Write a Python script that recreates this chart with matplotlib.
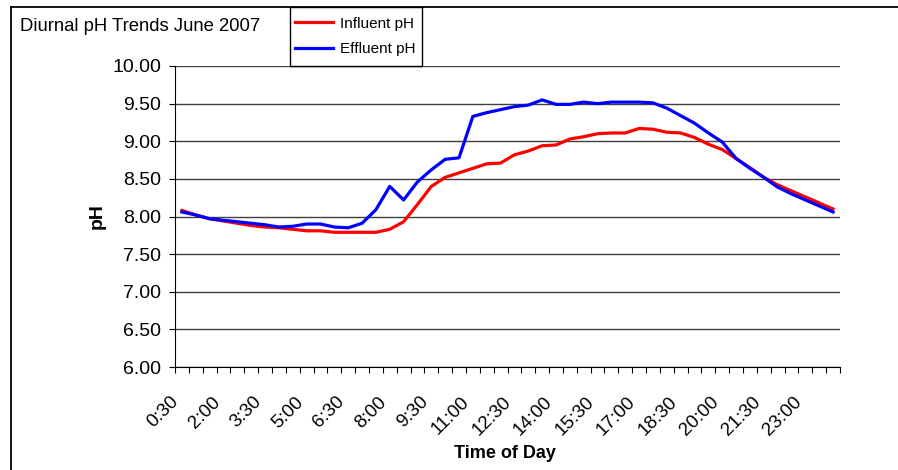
import matplotlib
matplotlib.use('Agg')
import matplotlib.pyplot as plt
from matplotlib.lines import Line2D
from matplotlib.patches import Rectangle
from matplotlib.ticker import FormatStrFormatter

plt.rcParams['font.family'] = ['Liberation Sans', 'DejaVu Sans']

# Half-hourly readings, 0:30 through 24:00
times = ['0:30', '1:00', '1:30', '2:00', '2:30', '3:00', '3:30', '4:00',
         '4:30', '5:00', '5:30', '6:00', '6:30', '7:00', '7:30', '8:00',
         '8:30', '9:00', '9:30', '10:00', '10:30', '11:00', '11:30', '12:00',
         '12:30', '13:00', '13:30', '14:00', '14:30', '15:00', '15:30', '16:00',
         '16:30', '17:00', '17:30', '18:00', '18:30', '19:00', '19:30', '20:00',
         '20:30', '21:00', '21:30', '22:00', '22:30', '23:00', '23:30', '24:00']

influent = [8.08, 8.02, 7.97, 7.94, 7.91, 7.88, 7.86, 7.85, 7.83, 7.81, 7.81, 7.79,
            7.79, 7.79, 7.79, 7.83, 7.93, 8.16, 8.40, 8.52, 8.58, 8.64, 8.70, 8.71,
            8.82, 8.87, 8.94, 8.95, 9.03, 9.06, 9.10, 9.11, 9.11, 9.17, 9.16, 9.12,
            9.11, 9.05, 8.96, 8.89, 8.77, 8.65, 8.52, 8.42, 8.34, 8.26, 8.18, 8.10]

effluent = [8.06, 8.02, 7.97, 7.95, 7.93, 7.91, 7.89, 7.86, 7.87, 7.90, 7.90, 7.86,
            7.85, 7.91, 8.09, 8.40, 8.22, 8.46, 8.62, 8.76, 8.78, 9.33, 9.38, 9.42,
            9.46, 9.48, 9.55, 9.49, 9.49, 9.52, 9.50, 9.52, 9.52, 9.52, 9.51, 9.44,
            9.34, 9.24, 9.11, 8.99, 8.77, 8.64, 8.52, 8.39, 8.30, 8.22, 8.14, 8.06]

yticks = [6.0, 6.5, 7.0, 7.5, 8.0, 8.5, 9.0, 9.5, 10.0]

W, H = 898, 470
fig = plt.figure(figsize=(W / 100, H / 100), dpi=100)
ax = fig.add_axes([175 / W, 103 / H, 665 / W, 301 / H])

x = list(range(len(times)))
ax.plot(x, influent, color='#ff0000', lw=2.3, label='Influent pH', zorder=3,
        solid_joinstyle='round')
ax.plot(x, effluent, color='#0000ff', lw=2.3, label='Effluent pH', zorder=4,
        solid_joinstyle='round')

ax.set_xlim(-0.5, len(times) - 0.5)
ax.set_ylim(6, 10)
ax.set_yticks(yticks)
ax.yaxis.set_major_formatter(FormatStrFormatter('%.2f'))
ax.yaxis.grid(True, color='#404040', lw=1)
ax.set_axisbelow(True)
for s in ['top', 'right']:
    ax.spines[s].set_visible(False)

# tick marks between categories, labels every third category
ax.set_xticks([i - 0.5 for i in range(len(times) + 1)])
ax.set_xticklabels([])
label_idx = list(range(0, len(times), 3))
ax.set_xticks(label_idx, [times[i] for i in label_idx], minor=True)
ax.tick_params(axis='x', which='major', length=4, direction='out')
ax.tick_params(axis='x', which='minor', length=0, pad=19, labelsize=13.5)
plt.setp(ax.get_xticklabels(minor=True), rotation=45, ha='right')
ax.tick_params(axis='y', length=4, direction='out', labelsize=14, pad=6)

fig.text(20 / W, (H - 31) / H, 'Diurnal pH Trends June 2007', fontsize=13.3, va='baseline')
fig.text(505 / W, (H - 458) / H, 'Time of Day', fontsize=13, fontweight='bold',
         ha='center', va='baseline')
fig.text(97 / W, (H - 216.5) / H, 'pH', fontsize=14, fontweight='bold',
         rotation=90, ha='center', va='center')

# chart frame (runs off the right and bottom of the image)
fig.add_artist(Line2D([11 / W, 1], [(H - 7) / H] * 2, color='black', lw=1.3))
fig.add_artist(Line2D([11 / W] * 2, [0, (H - 7) / H], color='black', lw=1.3))

# legend box
fig.add_artist(Rectangle((290 / W, (H - 66) / H), 132 / W, 59 / H, fill=False,
                         edgecolor='black', lw=1, transform=fig.transFigure))
fig.legend(loc='center left', bbox_to_anchor=(295 / W, (H - 36.5) / H), frameon=False,
           fontsize=11, handlelength=2.5, handletextpad=0.45, labelspacing=0.75,
           borderpad=0, borderaxespad=0)

fig.savefig('out.png', dpi=100)
